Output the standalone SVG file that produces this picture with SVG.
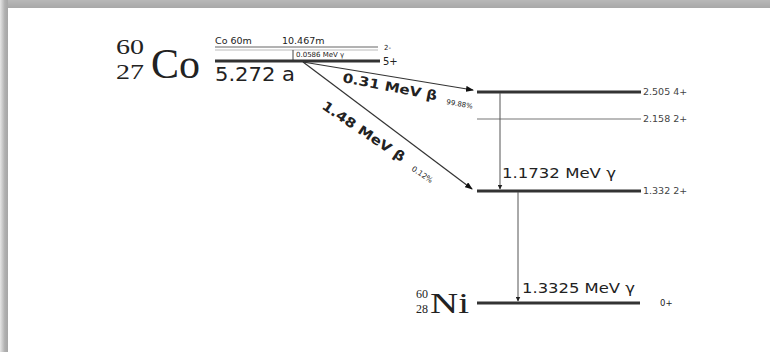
<svg xmlns="http://www.w3.org/2000/svg" width="770" height="352" viewBox="0 0 770 352">
<defs>
<linearGradient id="gTop" x1="0" y1="0" x2="0" y2="1"><stop offset="0" stop-color="#b8b8b8"/><stop offset="1" stop-color="#a8a8a8"/></linearGradient>
<linearGradient id="gLeft" x1="0" y1="0" x2="1" y2="0"><stop offset="0" stop-color="#e6e6e6"/><stop offset="0.6" stop-color="#b0b0b0"/><stop offset="1" stop-color="#a6a6a6"/></linearGradient>
<marker id="ah" markerWidth="8" markerHeight="6" refX="7" refY="3" orient="auto" markerUnits="userSpaceOnUse"><path d="M0,0 L8,3 L0,6 Z" fill="#111"/></marker>
<marker id="ahs" markerWidth="5" markerHeight="5" refX="4.5" refY="2.5" orient="auto" markerUnits="userSpaceOnUse"><path d="M0,0 L5,2.5 L0,5 Z" fill="#222"/></marker>
</defs>
<style>
.sans{font-family:"DejaVu Sans","Liberation Sans",sans-serif;fill:#222}
.serif{font-family:"Liberation Serif","DejaVu Serif",serif;fill:#222}
.thick{stroke:#333;stroke-width:3}
.thin{stroke:#777;stroke-width:1.2}
.lvl{font-size:9.5px;fill:#444}
.beta{stroke:#333;stroke-width:1.2;fill:none;marker-end:url(#ah)}
.gam{stroke:#555;stroke-width:1;fill:none;marker-end:url(#ahs)}
</style>
<rect width="770" height="352" fill="#fff"/>
<rect x="0" y="0" width="770" height="8" fill="url(#gTop)"/>
<rect x="0" y="0" width="8" height="352" fill="url(#gLeft)"/>

<g id="co60">
<text class="serif" x="116" y="54" font-size="21" textLength="28" lengthAdjust="spacingAndGlyphs">60</text>
<text class="serif" x="116" y="79" font-size="21" textLength="28" lengthAdjust="spacingAndGlyphs">27</text>
<text class="serif" x="151" y="78" font-size="42" textLength="49" lengthAdjust="spacingAndGlyphs">Co</text>
<text class="sans" x="215" y="81" font-size="19" textLength="80" lengthAdjust="spacingAndGlyphs">5.272 a</text>
</g>

<g id="co60m">
<text class="sans" x="215" y="44" font-size="9.5">Co 60m</text>
<text class="sans" x="282" y="44" font-size="9.5">10.467m</text>
<line x1="215" y1="47" x2="378" y2="47" stroke="#999" stroke-width="1.5"/>
<line x1="215" y1="50" x2="378" y2="50" stroke="#bbb" stroke-width="1"/>
<text class="sans" x="384" y="50" font-size="7">2-</text>
<line x1="293" y1="50" x2="293" y2="60" stroke="#444" stroke-width="1"/>
<text class="sans" x="296" y="57" font-size="7" fill="#666">0.0586 MeV γ</text>
</g>

<g id="co60-ground">
<line class="thick" x1="215" y1="61" x2="380" y2="61" stroke-width="2.5"/>
<text class="sans" x="383" y="65" font-size="10">5+</text>
</g>

<g id="lvl2505">
<line class="thick" x1="477" y1="92" x2="641" y2="92"/>
<text class="sans lvl" x="643" y="95">2.505 4+</text>
</g>
<g id="lvl2158">
<line class="thin" x1="477" y1="119" x2="641" y2="119"/>
<text class="sans lvl" x="643" y="122">2.158 2+</text>
</g>
<g id="lvl1332">
<line class="thick" x1="477" y1="191" x2="641" y2="191"/>
<text class="sans lvl" x="643" y="194">1.332 2+</text>
</g>
<g id="ni60">
<line class="thick" x1="477" y1="303" x2="640" y2="303"/>
<text class="sans" x="660" y="306" font-size="8.5" fill="#444">0+</text>
<text class="serif" x="416" y="298" font-size="11.5" textLength="12" lengthAdjust="spacingAndGlyphs">60</text>
<text class="serif" x="416" y="313" font-size="11.5" textLength="12" lengthAdjust="spacingAndGlyphs">28</text>
<text class="serif" x="430" y="313" font-size="30" textLength="39" lengthAdjust="spacingAndGlyphs">Ni</text>
</g>

<g id="connectors">
<line class="beta" x1="303" y1="62" x2="473" y2="90"/>
<line class="beta" x1="303" y1="62" x2="472" y2="189"/>
<line class="gam" x1="500" y1="93" x2="500" y2="189"/>
<line class="gam" x1="518" y1="192" x2="518" y2="301"/>
</g>

<g id="labels">
<text class="sans" font-weight="bold" font-size="13" x="342" y="82" transform="rotate(11 342 82)" textLength="96" lengthAdjust="spacingAndGlyphs">0.31 MeV β</text>
<text class="sans" font-size="7" x="446" y="104" transform="rotate(10 446 104)" fill="#555">99.88%</text>
<text class="sans" font-weight="bold" font-size="13" x="321" y="108" transform="rotate(34 321 108)" textLength="97" lengthAdjust="spacingAndGlyphs">1.48 MeV β</text>
<text class="sans" font-size="7.5" x="411" y="170" transform="rotate(34 411 170)" fill="#555">0.12%</text>
<text class="sans" font-size="14" x="502" y="178" textLength="114" lengthAdjust="spacingAndGlyphs">1.1732 MeV γ</text>
<text class="sans" font-size="14" x="522" y="293" textLength="113" lengthAdjust="spacingAndGlyphs">1.3325 MeV γ</text>
</g>
</svg>
